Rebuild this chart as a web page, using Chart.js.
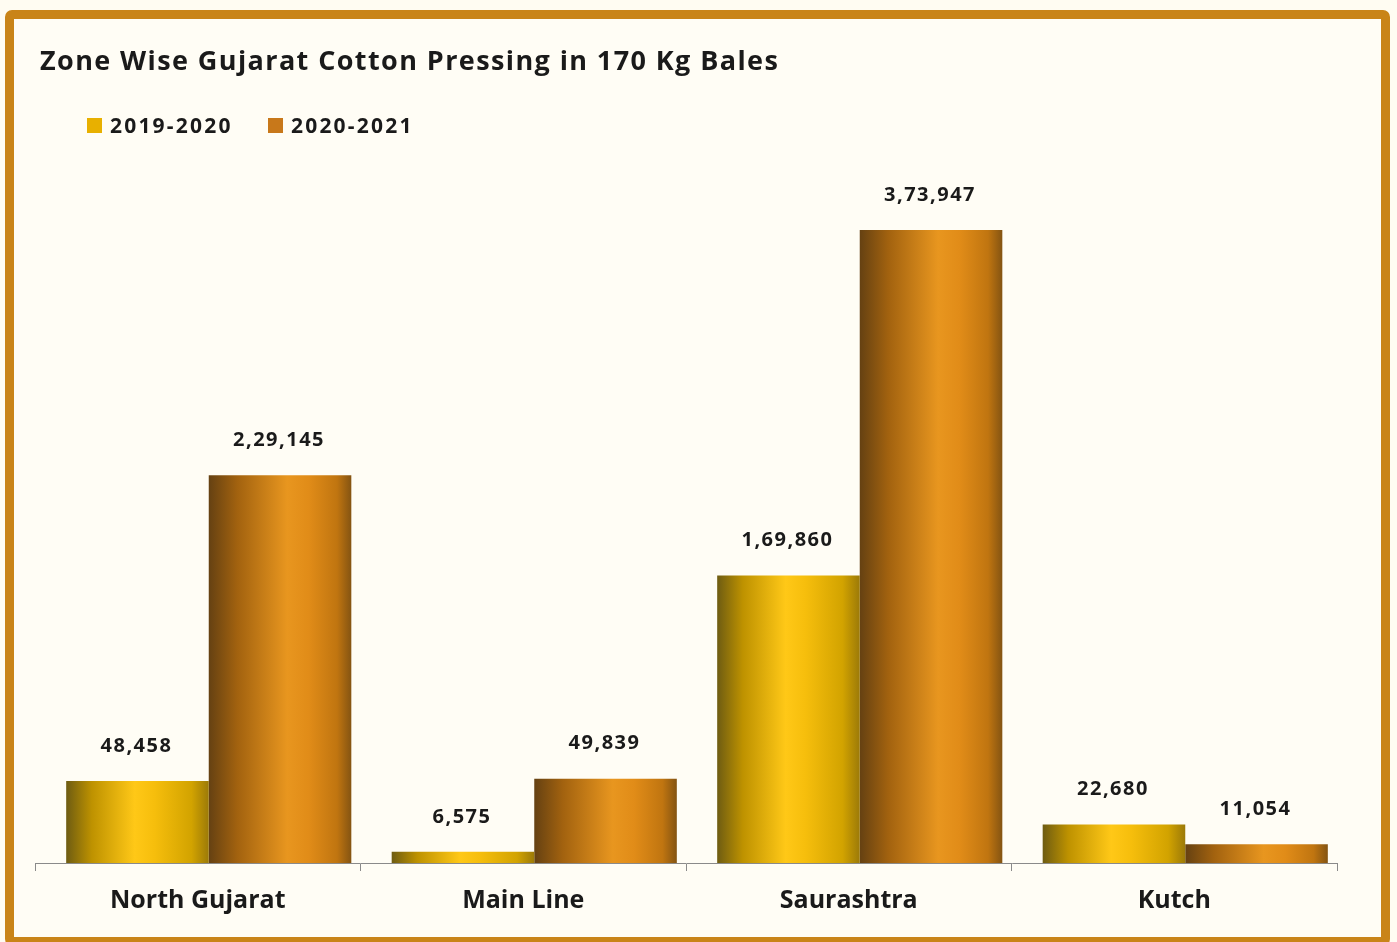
<!DOCTYPE html>
<html>
<head>
<meta charset="utf-8">
<script src="https://cdn.jsdelivr.net/npm/chart.js@4.4.1/dist/chart.umd.min.js"></script>
<style>
  html, body { margin: 0; padding: 0; background: #FFFCF2; width: 1397px; height: 942px; overflow: hidden; }
  #frame { position: absolute; left: 5px; top: 10px; width: 1385px; height: 936px; box-sizing: border-box;
           border: 9px solid #C98418; border-radius: 7px; background: #FFFDF5; }
  #c { position: absolute; left: 0; top: 0; }
</style>
</head>
<body>
<div id="frame"></div>
<canvas id="c" width="1397" height="942"></canvas>
<script>
const chartTitle = "Zone Wise Gujarat Cotton Pressing in 170 Kg Bales";
const categories = ["North Gujarat", "Main Line", "Saurashtra", "Kutch"];
const seriesNames = ["2019-2020", "2020-2021"];
const values2019_20 = [48458, 6575, 169860, 22680];
const values2020_21 = [229145, 49839, 373947, 11054];

const legendColors = ["#E8B000", "#C8781A"];
const gradStops = [
  [[0, "#6E5C12"], [0.18, "#BE9200"], [0.48, "#FFC817"], [0.62, "#F6BE0C"], [0.88, "#D2A300"], [1, "#9C7A08"]],
  [[0, "#654112"], [0.2, "#A2620F"], [0.55, "#E8961F"], [0.7, "#E18C18"], [0.9, "#C07510"], [1, "#845412"]]
];
const FONT = "'Open Sans', Lato, 'DejaVu Sans', sans-serif";

function indianFormat(n) {
  const s = String(Math.round(n));
  if (s.length <= 3) return s;
  const last3 = s.slice(-3);
  let rest = s.slice(0, -3);
  const parts = [];
  while (rest.length > 2) { parts.unshift(rest.slice(-2)); rest = rest.slice(0, -2); }
  if (rest.length) parts.unshift(rest);
  return parts.join(",") + "," + last3;
}

const decorPlugin = {
  id: "decor",
  beforeDatasetsDraw(chart) {
    const ctx = chart.ctx;
    ctx.save();
    ctx.translate(11, 0);
    chart.data.datasets.forEach((ds, di) => {
      const meta = chart.getDatasetMeta(di);
      meta.data.forEach(el => {
        const l = el.x - el.width / 2, r = el.x + el.width / 2;
        const g = ctx.createLinearGradient(l, 0, r, 0);
        gradStops[di].forEach(([o, c]) => g.addColorStop(o, c));
        el.options = Object.assign({}, el.options, { backgroundColor: g });
      });
    });
  },
  afterDatasetsDraw(chart) {
    const ctx = chart.ctx;
    ctx.font = "bold 20px " + FONT;
    ctx.letterSpacing = "1.5px";
    ctx.fillStyle = "#1A1A1A";
    ctx.textAlign = "center";
    ctx.textBaseline = "middle";
    chart.data.datasets.forEach((ds, di) => {
      const meta = chart.getDatasetMeta(di);
      meta.data.forEach((el, i) => {
        ctx.fillText(indianFormat(ds.data[i]), el.x - 1, el.y - 35);
      });
    });
    ctx.restore();
  },
  afterDraw(chart) {
    const ctx = chart.ctx;
    ctx.save();
    ctx.fillStyle = "#1A1A1A";
    ctx.textBaseline = "middle";
    ctx.textAlign = "left";
    ctx.font = "bold 27px " + FONT;
    ctx.letterSpacing = "1.4px";
    ctx.fillText(chartTitle, 40, 62);
    ctx.font = "bold 21px " + FONT;
    ctx.letterSpacing = "2.2px";
    const legendX = [87, 268];
    seriesNames.forEach((name, i) => {
      ctx.fillStyle = legendColors[i];
      ctx.fillRect(legendX[i], 118, 15, 15);
      ctx.fillStyle = "#1A1A1A";
      ctx.fillText(name, legendX[i] + 23, 127);
    });
    ctx.restore();
  }
};

new Chart(document.getElementById("c"), {
  type: "bar",
  data: {
    labels: categories,
    datasets: [
      { label: seriesNames[0], data: values2019_20, backgroundColor: () => legendColors[0], borderWidth: 0 },
      { label: seriesNames[1], data: values2020_21, backgroundColor: () => legendColors[1], borderWidth: 0 }
    ]
  },
  options: {
    responsive: false,
    animation: false,
    devicePixelRatio: 1,
    categoryPercentage: 0.876,
    barPercentage: 1.0,
    layout: { padding: { left: 35, right: 60, top: 186, bottom: 11 } },
    plugins: { legend: { display: false }, title: { display: false }, tooltip: { enabled: false } },
    scales: {
      y: { display: false, min: 0, max: 400000 },
      x: {
        offset: true,
        grid: { display: true, drawOnChartArea: false, offset: true, tickLength: 8, color: "#8A8A8A", lineWidth: 1 },
        border: { display: true, color: "#8A8A8A", width: 1 },
        ticks: { color: "#1A1A1A", padding: 15, font: { family: FONT, size: 25, weight: "bold" } }
      }
    }
  },
  plugins: [decorPlugin]
});
</script>
</body>
</html>
